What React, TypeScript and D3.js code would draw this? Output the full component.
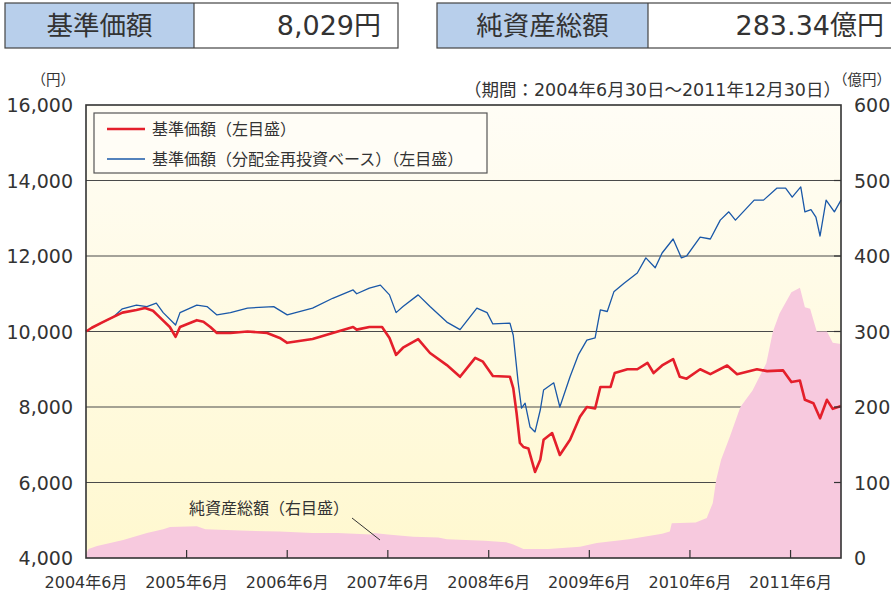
import React, { useEffect, useRef } from "react";
import * as d3 from "d3";

const W = 891,
  H = 594;
const margin = { top: 105, right: 50, bottom: 36, left: 86 };
const font = "'Noto Sans CJK JP', 'Noto Sans', sans-serif";
const numFont = "'DejaVu Sans', 'Noto Sans CJK JP', sans-serif";

const colorNav = "#e41f2b",
  colorReinv = "#1a58a8",
  colorAssets = "#f7c9de";

// 基準価額 (円)
const navDates = [
  "2004-06-30", "2004-07-21", "2004-08-30", "2004-10-06", "2004-11-09", "2004-12-30",
  "2005-01-30", "2005-02-28", "2005-03-24", "2005-04-30", "2005-05-21", "2005-06-06",
  "2005-08-06", "2005-08-30", "2005-09-24", "2005-10-18", "2005-12-06", "2006-02-06",
  "2006-04-18", "2006-06-03", "2006-06-30", "2006-09-30", "2006-12-12", "2007-02-24",
  "2007-03-09", "2007-04-24", "2007-06-09", "2007-07-06", "2007-07-30", "2007-08-24",
  "2007-10-18", "2007-11-30", "2008-01-30", "2008-03-18", "2008-05-12", "2008-06-09",
  "2008-07-15", "2008-09-15", "2008-09-27", "2008-10-09", "2008-10-21", "2008-11-03",
  "2008-11-21", "2008-12-15", "2009-01-03", "2009-01-15", "2009-02-15", "2009-03-15",
  "2009-04-21", "2009-05-27", "2009-06-21", "2009-07-21", "2009-08-09", "2009-09-15",
  "2009-09-30", "2009-11-15", "2009-12-21", "2010-01-27", "2010-02-18", "2010-03-21",
  "2010-04-30", "2010-05-24", "2010-06-18", "2010-08-06", "2010-09-12", "2010-11-12",
  "2010-12-18", "2011-02-28", "2011-04-06", "2011-06-03", "2011-07-03", "2011-08-03",
  "2011-08-21", "2011-09-21", "2011-10-15", "2011-11-09", "2011-11-30", "2011-12-30",
];
const navValues = [
  10000, 10100, 10250, 10380, 10500, 10570,
  10620, 10550, 10380, 10120, 9860, 10120,
  10300, 10260, 10120, 9960, 9960, 10000,
  9960, 9830, 9700, 9800, 9960, 10120,
  10050, 10120, 10120, 9830, 9380, 9570,
  9800, 9430, 9110, 8800, 9300, 9200,
  8820, 8800, 8500, 7840, 7050, 6940,
  6900, 6280, 6600, 7130, 7310, 6730,
  7130, 7740, 8000, 7960, 8530, 8530,
  8900, 9000, 9000, 9170, 8900, 9100,
  9270, 8800, 8750, 9000, 8870, 9100,
  8870, 9000, 8950, 8970, 8660, 8700,
  8190, 8100, 7700, 8190, 7950, 8029,
];

// 基準価額（分配金再投資ベース）(円)
const reinvDates = [
  "2004-06-30", "2004-07-21", "2004-08-30", "2004-10-06", "2004-11-09", "2004-12-30",
  "2005-02-06", "2005-03-12", "2005-04-06", "2005-05-21", "2005-06-06", "2005-08-06",
  "2005-09-12", "2005-10-18", "2005-12-06", "2006-02-06", "2006-05-12", "2006-06-30",
  "2006-09-30", "2006-12-12", "2007-02-24", "2007-03-09", "2007-04-24", "2007-06-03",
  "2007-07-06", "2007-07-30", "2007-08-24", "2007-10-18", "2007-11-30", "2008-01-30",
  "2008-03-18", "2008-05-18", "2008-06-24", "2008-07-15", "2008-09-15", "2008-09-27",
  "2008-10-15", "2008-10-27", "2008-11-09", "2008-11-27", "2008-12-15", "2009-01-03",
  "2009-01-15", "2009-02-21", "2009-03-15", "2009-04-21", "2009-05-21", "2009-06-21",
  "2009-07-21", "2009-08-09", "2009-09-03", "2009-09-27", "2009-11-03", "2009-12-21",
  "2010-01-21", "2010-02-24", "2010-03-21", "2010-04-30", "2010-05-30", "2010-06-18",
  "2010-08-06", "2010-09-12", "2010-10-18", "2010-11-18", "2010-12-12", "2011-02-18",
  "2011-03-24", "2011-05-12", "2011-06-12", "2011-07-06", "2011-08-06", "2011-08-21",
  "2011-09-12", "2011-09-30", "2011-10-15", "2011-11-06", "2011-12-06", "2011-12-30",
];
const reinvValues = [
  10000, 10100, 10250, 10380, 10600, 10700,
  10660, 10750, 10500, 10170, 10500, 10700,
  10660, 10440, 10500, 10620, 10660, 10440,
  10620, 10880, 11100, 11000, 11150, 11230,
  10970, 10500, 10660, 10970, 10660, 10250,
  10050, 10620, 10500, 10200, 10220, 9900,
  8640, 7970, 8100, 7470, 7340, 7920,
  8450, 8640, 8000, 8800, 9380, 9770,
  9830, 10570, 10530, 11050, 11280, 11550,
  11950, 11690, 12080, 12450, 11950, 12000,
  12500, 12450, 12950, 13170, 12950, 13480,
  13480, 13800, 13800, 13560, 13830, 13170,
  13230, 13030, 12530, 13480, 13170, 13480,
];

// 純資産総額 (億円)
const assetDates = [
  "2004-06-30", "2004-07-09", "2004-08-09", "2004-11-12", "2005-02-06", "2005-04-06",
  "2005-05-01", "2005-08-06", "2005-09-06", "2006-02-06", "2006-06-01", "2006-09-30",
  "2006-12-30", "2007-05-01", "2007-05-10", "2007-06-30", "2007-09-30", "2007-12-30",
  "2008-01-30", "2008-06-15", "2008-09-01", "2008-09-27", "2008-11-03", "2009-02-01",
  "2009-05-27", "2009-07-27", "2009-11-21", "2010-03-21", "2010-04-18", "2010-04-25",
  "2010-07-21", "2010-08-30", "2010-09-21", "2010-10-03", "2010-10-21", "2010-11-21",
  "2010-12-30", "2011-02-12", "2011-04-03", "2011-04-27", "2011-05-21", "2011-07-03",
  "2011-08-03", "2011-08-21", "2011-09-09", "2011-10-03", "2011-11-09", "2011-11-30",
  "2011-12-30",
];
const assetValues = [
  5, 12, 16, 24, 33, 38,
  41, 42, 38, 36, 35, 33,
  33, 31, 33, 31, 28, 27,
  25, 23, 21, 18, 12, 12,
  15, 20, 25, 32, 35, 46,
  47, 53, 73, 103, 130, 160,
  200, 222, 258, 300, 324, 352,
  358, 332, 330, 300, 300, 285,
  283.34,
];

const leftTicks = [4000, 6000, 8000, 10000, 12000, 14000, 16000];
const rightTicks = [0, 100, 200, 300, 400, 500, 600];
const xTickDates = ["2004-06-30", "2005-06-30", "2006-06-30", "2007-06-30", "2008-06-30", "2009-06-30", "2010-06-30", "2011-06-30"];
const xTickLabels = ["2004年6月", "2005年6月", "2006年6月", "2007年6月", "2008年6月", "2009年6月", "2010年6月", "2011年6月"];
const domainDates = ["2004-06-30", "2011-12-30"];

const parse = d3.timeParse("%Y-%m-%d");

let drawChart = (node: SVGSVGElement) => {
  const svg = d3.select(node);
  svg.selectAll("*").remove();

  const iw = W - margin.left - margin.right;
  const ih = H - margin.top - margin.bottom;

  const x = d3.scaleTime().domain(domainDates.map(d => parse(d)!)).range([0, iw]);
  const yL = d3.scaleLinear().domain([4000, 16000]).range([ih, 0]);
  const yR = d3.scaleLinear().domain([0, 600]).range([ih, 0]);

  const nav = navDates.map((d, i) => ({ date: parse(d)!, v: navValues[i] }));
  const reinv = reinvDates.map((d, i) => ({ date: parse(d)!, v: reinvValues[i] }));
  const assets = assetDates.map((d, i) => ({ date: parse(d)!, v: assetValues[i] }));

  // header boxes
  const header = [
    { x: 5, w: 393, lw: 189, label: "基準価額", value: "8,029円", vx: 381 },
    { x: 437, w: 470, lw: 211, label: "純資産総額", value: "283.34億円", vx: 884 },
  ];
  header.forEach(h => {
    const g = svg.append("g");
    g.append("rect").attr("x", h.x).attr("y", 3).attr("width", h.lw).attr("height", 45).attr("fill", "#b8cfeb");
    g.append("rect").attr("x", h.x).attr("y", 3).attr("width", h.w).attr("height", 45)
      .attr("fill", "none").attr("stroke", "#444").attr("stroke-width", 1.2);
    g.append("line").attr("x1", h.x + h.lw).attr("x2", h.x + h.lw).attr("y1", 3).attr("y2", 48)
      .attr("stroke", "#444").attr("stroke-width", 1.2);
    g.append("text").attr("x", h.x + h.lw / 2).attr("y", 35).attr("text-anchor", "middle")
      .attr("font-size", 26.5).attr("fill", "#333").text(h.label);
    g.append("text").attr("x", h.vx).attr("y", 35).attr("text-anchor", "end")
      .attr("font-family", numFont).attr("font-size", 27).attr("fill", "#333").text(h.value);
  });

  const defs = svg.append("defs");
  const grad = defs.append("linearGradient").attr("id", "bg").attr("x1", 0).attr("x2", 0).attr("y1", 0).attr("y2", 1);
  grad.append("stop").attr("offset", "0%").attr("stop-color", "#fffdf6");
  grad.append("stop").attr("offset", "100%").attr("stop-color", "#fff8cf");

  const g = svg.append("g").attr("transform", `translate(${margin.left},${margin.top})`);

  g.append("rect").attr("width", iw).attr("height", ih).attr("fill", "url(#bg)");

  // gridlines
  g.append("g").selectAll("line").data(leftTicks.slice(1, -1)).join("line")
    .attr("x1", 0).attr("x2", iw).attr("y1", d => yL(d)).attr("y2", d => yL(d))
    .attr("stroke", "#4a4a4a").attr("stroke-width", 1.2);

  // 純資産総額 area
  const area = d3.area<{ date: Date; v: number }>()
    .x(d => x(d.date)).y0(ih).y1(d => yR(d.v));
  g.append("path").datum(assets).attr("d", area).attr("fill", colorAssets);

  const line = d3.line<{ date: Date; v: number }>().x(d => x(d.date)).y(d => yL(d.v));
  g.append("path").datum(reinv).attr("d", line).attr("fill", "none")
    .attr("stroke", colorReinv).attr("stroke-width", 1.3).attr("stroke-linejoin", "round");
  g.append("path").datum(nav).attr("d", line).attr("fill", "none")
    .attr("stroke", colorNav).attr("stroke-width", 2.6).attr("stroke-linejoin", "round");

  // ticks
  g.append("g").selectAll("line").data(xTickDates.slice(1)).join("line")
    .attr("x1", d => x(parse(d)!)).attr("x2", d => x(parse(d)!)).attr("y1", ih).attr("y2", ih - 8)
    .attr("stroke", "#333").attr("stroke-width", 1.2);
  g.append("g").selectAll("line").data(rightTicks.slice(1, -1)).join("line")
    .attr("x1", iw).attr("x2", iw - 7).attr("y1", d => yR(d)).attr("y2", d => yR(d))
    .attr("stroke", "#333").attr("stroke-width", 1.2);

  g.append("rect").attr("width", iw).attr("height", ih).attr("fill", "none")
    .attr("stroke", "#333").attr("stroke-width", 1.6);

  // axis labels
  g.append("g").selectAll("text").data(leftTicks).join("text")
    .attr("x", -13).attr("y", d => yL(d) + 7).attr("text-anchor", "end")
    .attr("font-family", numFont).attr("font-size", 19).attr("fill", "#333").text(d => d3.format(",")(d));
  g.append("g").selectAll("text").data(rightTicks).join("text")
    .attr("x", iw + 13).attr("y", d => yR(d) + 7).attr("text-anchor", "start")
    .attr("font-family", numFont).attr("font-size", 19).attr("fill", "#333").text(d => String(d));
  g.append("g").selectAll("text").data(xTickDates).join("text")
    .attr("x", d => x(parse(d)!)).attr("y", ih + 30).attr("text-anchor", "middle")
    .attr("font-family", numFont).attr("font-size", 16).attr("fill", "#333").text((d, i) => xTickLabels[i]);

  svg.append("text").attr("x", 75).attr("y", 85).attr("text-anchor", "end")
    .attr("font-size", 14.5).attr("fill", "#333").text("（円）");
  svg.append("text").attr("x", 833).attr("y", 85).attr("text-anchor", "start")
    .attr("font-size", 14.5).attr("fill", "#333").text("（億円）");
  svg.append("text").attr("x", 841).attr("y", 96).attr("text-anchor", "end")
    .attr("font-family", numFont).attr("font-size", 17.5).attr("fill", "#333")
    .text("（期間：2004年6月30日～2011年12月30日）");

  // legend
  const lg = svg.append("g");
  lg.append("rect").attr("x", 94).attr("y", 113).attr("width", 393).attr("height", 60)
    .attr("fill", "#fffdf6").attr("stroke", "#555").attr("stroke-width", 1.2);
  const items = [
    { label: "基準価額（左目盛）", color: colorNav, w: 2.6 },
    { label: "基準価額（分配金再投資ベース）（左目盛）", color: colorReinv, w: 1.3 },
  ];
  items.forEach((it, i) => {
    const yy = 129 + i * 30;
    lg.append("line").attr("x1", 107).attr("x2", 145).attr("y1", yy).attr("y2", yy)
      .attr("stroke", it.color).attr("stroke-width", it.w);
    lg.append("text").attr("x", 152).attr("y", yy + 6).attr("font-size", 16)
      .attr("fill", "#333").text(it.label);
  });

  // annotation
  svg.append("text").attr("x", 189).attr("y", 514).attr("font-size", 16)
    .attr("fill", "#333").text("純資産総額（右目盛）");
  svg.append("line").attr("x1", 352).attr("y1", 518).attr("x2", 380).attr("y2", 540)
    .attr("stroke", "#333").attr("stroke-width", 1);
};

export default function App() {
  const ref = useRef<SVGSVGElement>(null);
  useEffect(() => {
    if (ref.current) drawChart(ref.current);
  }, []);
  return (
    <svg
      ref={ref}
      width={W}
      height={H}
      style={{ position: "absolute", left: 0, top: 0, background: "#fff", fontFamily: font }}
    />
  );
}
